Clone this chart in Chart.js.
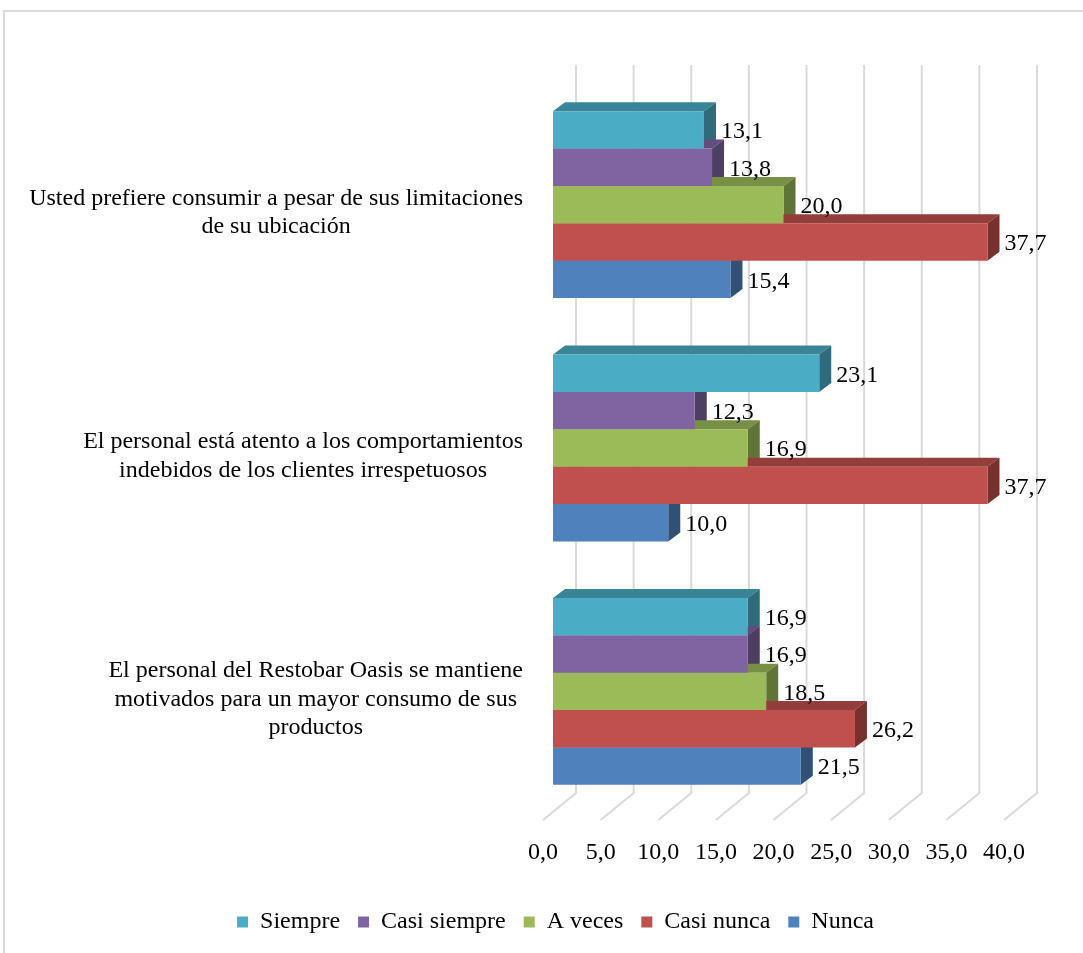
<!DOCTYPE html>
<html>
<head>
<meta charset="utf-8">
<script src="https://cdn.jsdelivr.net/npm/chart.js@4.4.0/dist/chart.umd.min.js"></script>
<style>
    html, body { margin: 0; padding: 0; background: #fff; overflow: hidden; }
    #frame {
        position: absolute; left: 3px; top: 10px; width: 1200px; height: 1200px;
        border-top: 2px solid #d9d9d9; border-left: 2px solid #d9d9d9;
    }
    #chart { position: absolute; left: 0; top: 0; }
</style>
</head>
<body>
<div id="frame"></div>
<canvas id="chart" width="1083" height="953"></canvas>
<script>
// Categories (top to bottom)
const categories = [
    ['Usted prefiere consumir a pesar de sus limitaciones', 'de su ubicación'],
    ['El personal está atento a los comportamientos', 'indebidos de los clientes irrespetuosos'],
    ['El personal del Restobar Oasis se mantiene', 'motivados para un mayor consumo de sus', 'productos']
];

// Series values (%)
const siempre = [13.1, 23.1, 16.9];
const casiSiempre = [13.8, 12.3, 16.9];
const aVeces = [20.0, 16.9, 18.5];
const casiNunca = [37.7, 37.7, 26.2];
const nunca = [15.4, 10.0, 21.5];

const seriesNames = ['Siempre', 'Casi siempre', 'A veces', 'Casi nunca', 'Nunca'];
const seriesValues = [siempre, casiSiempre, aVeces, casiNunca, nunca];
const seriesColors = ['#4BACC6', '#8064A2', '#9BBB59', '#C0504D', '#4F81BD'];

const FONT = '"Liberation Serif", "Times New Roman", serif';
const depthX = 12, depthY = 9;

function shade(hex, f) {
    const n = parseInt(hex.slice(1), 16);
    const r = Math.round(((n >> 16) & 255) * f);
    const g = Math.round(((n >> 8) & 255) * f);
    const b = Math.round((n & 255) * f);
    return `rgb(${r},${g},${b})`;
}

function fmt(v) {
    return v.toFixed(1).replace('.', ',');
}

// Draws the back wall, floor and the 3D faces of the bars
const threeD = {
    id: 'threeD',
    beforeDatasetsDraw(chart) {
        const {ctx, chartArea, scales: {x}} = chart;
        ctx.save();
        ctx.strokeStyle = '#d9d9d9';
        ctx.lineWidth = 2;
        x.ticks.forEach(t => {
            const px = x.getPixelForValue(t.value);
            ctx.beginPath();
            ctx.moveTo(px + 23, chartArea.top - 18);
            ctx.lineTo(px + 23, chartArea.bottom - 20);
            ctx.lineTo(px - 10, chartArea.bottom + 7);
            ctx.stroke();
        });

        chart.data.datasets.forEach((ds, i) => {
            const meta = chart.getDatasetMeta(i);
            meta.data.forEach(bar => {
                const top = bar.y - bar.height / 2;
                const bot = bar.y + bar.height / 2;
                const l = bar.base, r = bar.x;
                ctx.fillStyle = shade(seriesColors[i], 0.77);
                ctx.beginPath();
                ctx.moveTo(l, top);
                ctx.lineTo(l + depthX, top - depthY);
                ctx.lineTo(r + depthX, top - depthY);
                ctx.lineTo(r, top);
                ctx.closePath();
                ctx.fill();
                ctx.fillStyle = shade(seriesColors[i], 0.62);
                ctx.beginPath();
                ctx.moveTo(r, top);
                ctx.lineTo(r + depthX, top - depthY);
                ctx.lineTo(r + depthX, bot - depthY);
                ctx.lineTo(r, bot);
                ctx.closePath();
                ctx.fill();
            });
        });
        ctx.restore();
    },
    afterDatasetsDraw(chart) {
        const {ctx} = chart;
        ctx.save();
        ctx.font = '24px ' + FONT;
        ctx.fillStyle = '#000';
        ctx.textAlign = 'left';
        ctx.textBaseline = 'middle';
        chart.data.datasets.forEach((ds, i) => {
            chart.getDatasetMeta(i).data.forEach((bar, j) => {
                ctx.fillText(fmt(ds.data[j]), bar.x + depthX + 5, bar.y + 2);
            });
        });

        // category labels, each block centred on itself and right-aligned
        const y = chart.scales.y;
        const right = chart.chartArea.left - 30;
        const lh = 28.8;
        categories.forEach((lines, i) => {
            const w = Math.max(...lines.map(s => ctx.measureText(s).width));
            const cx = right - w / 2;
            const cy = y.getPixelForValue(i) + 8;
            ctx.textAlign = 'center';
            lines.forEach((s, k) => {
                ctx.fillText(s, cx, cy + (k - (lines.length - 1) / 2) * lh);
            });
        });
        ctx.restore();
    }
};

const ctx = document.getElementById('chart').getContext('2d');
const chart = new Chart(ctx, {
    type: 'bar',
    data: {
        labels: categories,
        datasets: seriesNames.map((name, i) => ({
            label: name,
            data: seriesValues[i],
            backgroundColor: seriesColors[i],
            borderWidth: 0,
            barPercentage: 1,
            categoryPercentage: 0.768
        }))
    },
    options: {
        indexAxis: 'y',
        responsive: false,
        animation: false,
        layout: {
            padding: {left: 97, right: 69, top: 83, bottom: 9}
        },
        scales: {
            x: {
                min: 0,
                max: 40,
                grid: {display: false, drawTicks: false},
                border: {display: false},
                ticks: {
                    stepSize: 5,
                    padding: 25,
                    labelOffset: -10,
                    color: '#000',
                    font: {family: FONT, size: 24},
                    callback: v => fmt(v)
                },
                afterFit(scale) { scale.height = 79; }
            },
            y: {
                grid: {display: false, drawTicks: false},
                border: {display: false},
                ticks: {display: false},
                afterFit(scale) { scale.width = 456; }
            }
        },
        plugins: {
            legend: {
                position: 'bottom',
                labels: {
                    boxWidth: 11,
                    boxHeight: 11,
                    padding: 18,
                    color: '#000',
                    font: {family: FONT, size: 24}
                }
            },
            tooltip: {enabled: false}
        }
    },
    plugins: [threeD]
});
</script>
</body>
</html>
